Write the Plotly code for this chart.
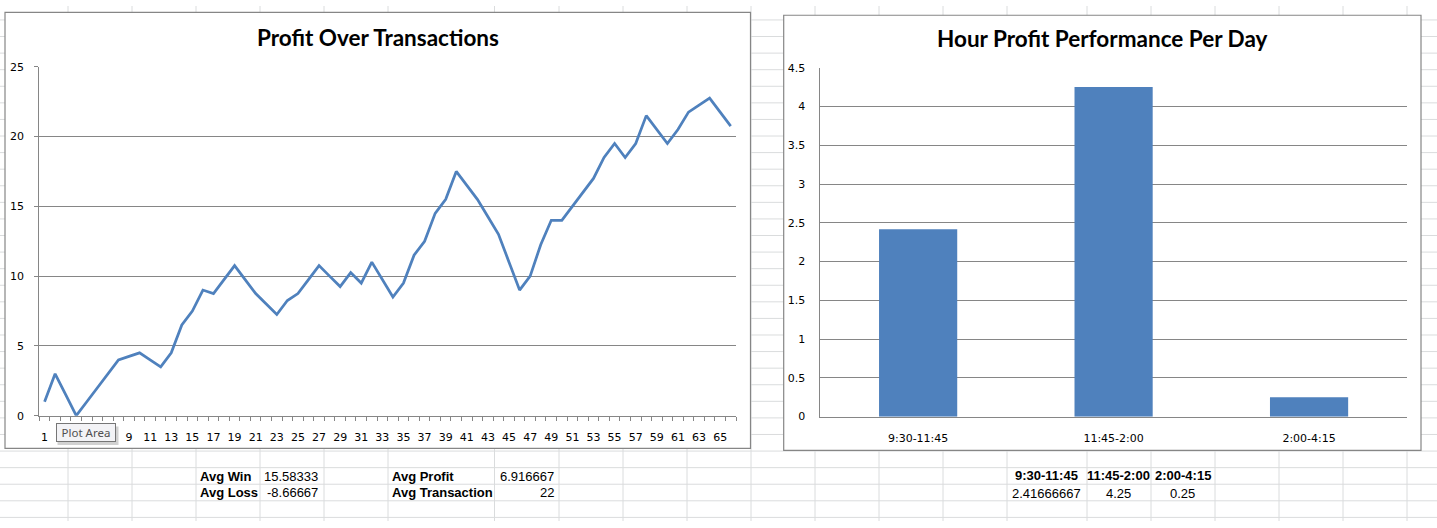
import plotly.graph_objects as go

W, H = 1437, 528

# profit running total per transaction
transactions = list(range(1, 67))
profit = [1, 3, 1.5, 0, 1, 2, 3, 4, 4.25, 4.5,
          4, 3.5, 4.5, 6.5, 7.5, 9, 8.75, 9.75, 10.75, 9.75,
          8.75, 8, 7.25, 8.25, 8.75, 9.75, 10.75, 10, 9.25, 10.25,
          9.5, 11, 9.75, 8.5, 9.5, 11.5, 12.5, 14.5, 15.5, 17.5,
          16.5, 15.5, 14.25, 13, 11, 9, 10, 12.25, 14, 14,
          15, 16, 17, 18.5, 19.5, 18.5, 19.5, 21.5, 20.5, 19.5,
          20.5, 21.75, 22.25, 22.75, 21.75, 20.75]
x_labels = [str(n) for n in transactions if n % 2 == 1]

# hour blocks
hours = ["9:30-11:45", "11:45-2:00", "2:00-4:15"]
hour_profit = [2.41666667, 4.25, 0.25]

# summary cells under the left chart
stat_labels = ["Avg Win", "Avg Loss", "Avg Profit", "Avg Transactions"]
stat_text = ["15.58333", "-8.66667", "6.916667", "22"]

BLUE = "#4f81bd"
GREY = "#868686"
CELL = "#dadcdd"
TICKFONT = dict(family="DejaVu Sans", size=11, color="black")


def fx(px):
    return px / W


def fy(py):
    return 1 - py / H


fig = go.Figure()

fig.add_trace(go.Scatter(x=transactions, y=profit, mode="lines",
                         line=dict(color=BLUE, width=2.75),
                         xaxis="x", yaxis="y", showlegend=False, hoverinfo="skip"))
fig.add_trace(go.Bar(x=hours, y=hour_profit, width=0.4, marker=dict(color=BLUE, line_width=0),
                     xaxis="x2", yaxis="y2", showlegend=False, hoverinfo="skip"))

# spreadsheet grid behind the charts
shapes = []
col_edges = [68, 132, 196, 260, 324, 388, 494.5, 559, 623, 687, 751, 815, 879, 943,
             1007, 1087, 1151, 1215, 1279, 1343, 1407]
for cx in col_edges:
    shapes.append(dict(type="line", xref="paper", yref="paper", x0=fx(cx), x1=fx(cx),
                       y0=0, y1=1, line=dict(color=CELL, width=1), layer="below"))
for k in range(31):
    ry = 14.3 + 17 * k
    shapes.append(dict(type="line", xref="paper", yref="paper", x0=0, x1=1,
                       y0=fy(ry), y1=fy(ry), line=dict(color=CELL, width=1), layer="below"))

# chart boxes
for (a, b, c, d) in [(5, 750.5, 6.5, 453.5), (783.7, 1421, 9.5, 455.5)]:
    shapes.append(dict(type="rect", xref="paper", yref="paper", x0=fx(a), x1=fx(b),
                       y0=fy(d), y1=fy(c), fillcolor="white",
                       line=dict(color=GREY, width=1.2), layer="below"))

# tooltip shadow
shapes.append(dict(type="rect", xref="paper", yref="paper", x0=fx(57.5), x1=fx(118.5),
                   y0=fy(450), y1=fy(431), fillcolor="rgba(0,0,0,0.18)",
                   line=dict(width=0), layer="above"))

annotations = [
    dict(text="<b>Profit Over Transactions</b>", xref="paper", yref="paper",
         x=fx(378), y=fy(32), showarrow=False, xanchor="center", yanchor="middle",
         font=dict(family="Lato", size=22.5, color="black")),
    dict(text="<b>Hour Profit Performance Per Day</b>", xref="paper", yref="paper",
         x=fx(1102), y=fy(33), showarrow=False, xanchor="center", yanchor="middle",
         font=dict(family="Lato", size=22.5, color="black")),
    dict(text="Plot Area", xref="paper", yref="paper", x=fx(85.5), y=fy(437.5),
         showarrow=False, xanchor="center", yanchor="middle", width=56, height=15,
         bgcolor="#f3f3f6", bordercolor="#767676", borderwidth=1, borderpad=1,
         font=dict(family="Noto Sans", size=11.5, color="#505050")),
]

cellfont = dict(family="Liberation Sans", size=13, color="black")
stat_pos = [(198, 320, 482), (198, 320, 499), (390, 555.6, 482), (390, 555.6, 499)]
for lab, val, (lx, rx, ry) in zip(stat_labels, stat_text, stat_pos):
    annotations.append(dict(text="<b>" + lab + "</b>", xref="paper", yref="paper",
                            x=fx(lx), y=fy(ry), showarrow=False, xanchor="left",
                            yanchor="middle", font=cellfont, align="left",
                            width=101 if lab == "Avg Transactions" else None))
    annotations.append(dict(text=val, xref="paper", yref="paper", x=fx(rx), y=fy(ry),
                            showarrow=False, xanchor="right", yanchor="middle", font=cellfont))

col_centers = [1046.5, 1118.6, 1182.7]
for h, v, cx in zip(hours, hour_profit, col_centers):
    annotations.append(dict(text="<b>" + h + "</b>", xref="paper", yref="paper",
                            x=fx(cx), y=fy(481.7), showarrow=False, xanchor="center",
                            yanchor="middle", font=cellfont))
    annotations.append(dict(text=f"{v:.9g}", xref="paper", yref="paper",
                            x=fx(cx), y=fy(499.3), showarrow=False, xanchor="center",
                            yanchor="middle", font=cellfont))

fig.update_layout(
    width=W, height=H, margin=dict(l=0, r=0, t=0, b=0),
    paper_bgcolor="white", plot_bgcolor="rgba(0,0,0,0)",
    shapes=shapes, annotations=annotations,
    xaxis=dict(domain=[fx(39.3), fx(736)], range=[0.5, 66.5], anchor="y",
               tickmode="array", tickvals=[int(t) for t in x_labels], ticktext=x_labels,
               ticks="", showgrid=False, zeroline=False,
               showline=True, linecolor=GREY, linewidth=1,
               minor=dict(tickmode="array", tickvals=[n - 0.5 for n in transactions] + [66.5],
                          ticks="outside", ticklen=4, tickcolor=GREY, showgrid=False),
               tickfont=TICKFONT, ticklabelstandoff=11),
    yaxis=dict(domain=[fy(420), fy(62.3)], range=[0, 25], anchor="x",
               tickmode="linear", tick0=0, dtick=5,
               ticks="outside", ticklen=4, tickcolor=GREY,
               showgrid=True, gridcolor=GREY, gridwidth=1, zeroline=False,
               showline=True, linecolor=GREY, linewidth=1,
               tickfont=TICKFONT, ticklabelstandoff=8),
    xaxis2=dict(domain=[fx(820.4), fx(1406.8)], anchor="y2", type="category",
                ticks="", showgrid=False, zeroline=False,
                showline=True, linecolor=GREY, linewidth=1,
                tickfont=TICKFONT, ticklabelstandoff=11),
    yaxis2=dict(domain=[fy(421), fy(63.3)], range=[0, 4.5], anchor="x2",
                tickmode="linear", tick0=0, dtick=0.5, ticks="",
                showgrid=True, gridcolor=GREY, gridwidth=1, zeroline=False,
                showline=True, linecolor=GREY, linewidth=1,
                tickfont=TICKFONT, ticklabelstandoff=12),
)

# page margin off so the figure sits at the window corner
fig.write_html("out.html", config={"displayModeBar": False},
               post_script="document.body.style.margin = '0';")
